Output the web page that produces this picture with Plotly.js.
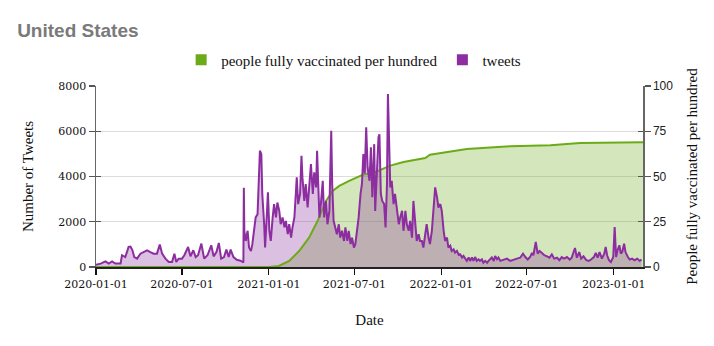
<!DOCTYPE html>
<html>
<head>
<meta charset="utf-8">
<script src="https://cdn.plot.ly/plotly-3.0.1.min.js"></script>
<style>
  html, body { margin: 0; padding: 0; background: #fff; }
  #chart { width: 714px; height: 346px; }
</style>
</head>
<body>
<div id="chart"></div>
<script>
const tweetDates = [
  '2020-01-01','2020-01-11','2020-01-21','2020-01-28','2020-02-04','2020-02-11','2020-02-22','2020-02-25',
  '2020-03-03','2020-03-10','2020-03-14','2020-03-18','2020-03-22','2020-03-28','2020-04-04','2020-04-11',
  '2020-04-18','2020-04-25','2020-05-02','2020-05-09','2020-05-15','2020-05-20','2020-05-27','2020-06-03',
  '2020-06-10','2020-06-15','2020-06-19','2020-06-24','2020-07-01','2020-07-06','2020-07-14','2020-07-19',
  '2020-07-25','2020-07-30','2020-08-04','2020-08-11','2020-08-17','2020-08-24','2020-09-01','2020-09-06',
  '2020-09-12','2020-09-17','2020-09-22','2020-09-28','2020-10-03','2020-10-08','2020-10-12','2020-10-18',
  '2020-10-25','2020-11-02','2020-11-08','2020-11-09','2020-11-10','2020-11-13','2020-11-17','2020-11-20',
  '2020-11-24','2020-11-27','2020-12-01','2020-12-04','2020-12-08','2020-12-11','2020-12-13','2020-12-16',
  '2020-12-18','2020-12-22','2020-12-24','2020-12-27','2020-12-30','2021-01-02','2021-01-05','2021-01-09',
  '2021-01-12','2021-01-16','2021-01-19','2021-01-23','2021-01-26','2021-01-30','2021-02-03','2021-02-06',
  '2021-02-10','2021-02-13','2021-02-17','2021-02-20','2021-02-24','2021-02-27','2021-03-01','2021-03-04',
  '2021-03-08','2021-03-11','2021-03-13','2021-03-17','2021-03-20','2021-03-24','2021-03-27','2021-03-31',
  '2021-04-04','2021-04-07','2021-04-11','2021-04-13','2021-04-16','2021-04-18','2021-04-21','2021-04-25',
  '2021-04-28','2021-05-02','2021-05-05','2021-05-09','2021-05-13','2021-05-15','2021-05-18','2021-05-22',
  '2021-05-25','2021-05-29','2021-06-01','2021-06-05','2021-06-09','2021-06-12','2021-06-16','2021-06-19',
  '2021-06-23','2021-06-26','2021-06-30','2021-07-03','2021-07-07','2021-07-10','2021-07-14','2021-07-17',
  '2021-07-20','2021-07-23','2021-07-26','2021-07-29','2021-08-02','2021-08-05','2021-08-08','2021-08-12',
  '2021-08-14','2021-08-17','2021-08-21','2021-08-23','2021-08-26','2021-08-29','2021-09-02','2021-09-05',
  '2021-09-08','2021-09-10','2021-09-12','2021-09-15','2021-09-18','2021-09-22','2021-09-25','2021-09-29',
  '2021-10-03','2021-10-06','2021-10-10','2021-10-13','2021-10-17','2021-10-20','2021-10-24','2021-10-27',
  '2021-10-31','2021-11-03','2021-11-07','2021-11-10','2021-11-14','2021-11-17','2021-11-21','2021-11-24',
  '2021-11-28','2021-12-01','2021-12-05','2021-12-08','2021-12-12','2021-12-15','2021-12-19','2021-12-23',
  '2021-12-26','2021-12-30','2022-01-02','2022-01-06','2022-01-09','2022-01-13','2022-01-16','2022-01-20',
  '2022-01-23','2022-01-27','2022-01-30','2022-02-03','2022-02-07','2022-02-10','2022-02-14','2022-02-17',
  '2022-02-21','2022-02-24','2022-02-28','2022-03-03','2022-03-07','2022-03-10','2022-03-14','2022-03-17',
  '2022-03-21','2022-03-24','2022-03-28','2022-03-31','2022-04-04','2022-04-08','2022-04-11','2022-04-15',
  '2022-04-18','2022-04-22','2022-04-25','2022-04-29','2022-05-02','2022-05-06','2022-05-13','2022-05-20',
  '2022-05-27','2022-06-03','2022-06-10','2022-06-17','2022-06-23','2022-06-28','2022-07-03','2022-07-08',
  '2022-07-12','2022-07-15','2022-07-20','2022-07-24','2022-07-28','2022-08-02','2022-08-07','2022-08-13',
  '2022-08-18','2022-08-23','2022-08-28','2022-09-03','2022-09-08','2022-09-13','2022-09-18','2022-09-24',
  '2022-09-30','2022-10-04','2022-10-11','2022-10-15','2022-10-20','2022-10-24','2022-10-29','2022-11-04',
  '2022-11-09','2022-11-14','2022-11-20','2022-11-24','2022-11-28','2022-12-02','2022-12-07','2022-12-12',
  '2022-12-15','2022-12-18','2022-12-22','2022-12-26','2022-12-31','2023-01-03','2023-01-06','2023-01-09',
  '2023-01-13','2023-01-16','2023-01-19','2023-01-23','2023-01-26','2023-01-31','2023-02-04','2023-02-09',
  '2023-02-14','2023-02-20','2023-02-25','2023-03-01'
];
const tweetCounts = [
  100,150,250,150,250,150,150,520,
  440,885,900,750,440,370,590,660,
  740,660,590,590,990,590,370,220,
  220,590,220,370,370,520,885,470,
  740,440,520,1035,370,520,960,470,
  660,1065,370,440,770,440,770,440,
  320,280,200,3500,1600,1150,1600,860,
  710,1010,1600,2190,2330,3810,5140,4990,
  3230,1890,860,2040,3300,1600,1150,2190,
  2780,2190,2850,2480,1890,2190,1750,2040,
  1450,1890,1300,1750,2190,3230,3960,2780,
  3230,4920,3960,2920,3670,2630,3670,4550,
  3230,4180,3520,5140,3370,2190,2780,3810,
  2190,2920,1890,2480,6020,3670,2040,1750,
  1450,1890,1300,1600,1150,1750,1150,1600,
  1010,1300,860,1010,1750,2190,3230,3670,
  4990,4130,6170,4400,3810,5290,3080,5430,
  2480,3960,5730,5870,3230,2920,2780,1750,
  3670,7650,5870,3520,3810,2780,3230,2480,
  1890,2190,2480,1600,2480,1890,1600,2040,
  1300,2920,1750,1150,1450,1150,1150,860,
  1450,1890,1300,1010,1600,2480,3520,3080,
  2630,2780,2480,1600,1150,1300,860,940,
  710,780,640,710,530,560,420,490,
  340,270,420,270,420,270,440,270,
  340,270,340,190,270,190,270,340,
  420,270,490,340,420,270,330,370,
  270,330,370,410,590,440,330,440,
  620,520,1110,590,710,620,520,470,
  410,560,370,410,300,440,370,440,
  330,410,840,410,660,370,470,300,
  270,330,440,620,410,660,370,590,
  890,520,300,220,440,1770,440,740,
  960,590,660,1030,660,440,330,370,
  300,370,270,330
];

// people fully vaccinated per hundred
const vaxDates = [
  '2020-01-01','2020-12-14','2021-01-01','2021-01-22','2021-02-13','2021-03-06','2021-03-27','2021-04-14',
  '2021-05-02','2021-05-16','2021-05-30','2021-06-20','2021-07-18','2021-08-15','2021-09-15','2021-10-13',
  '2021-11-28','2021-12-08','2022-01-20','2022-02-24','2022-05-27','2022-08-20','2022-10-22','2023-01-01',
  '2023-03-04'
];
const vaxValues = [
  0,0,0,0.6,3.3,8.8,16.2,25.4,
  36.5,42,44.8,47.6,50.9,52.5,56,58,
  60.2,62,63.8,65.2,66.7,67.3,68.5,68.9,
  68.9
];

const legendNames = ['people fully vaccinated per hundred', 'tweets'];

const green = '#6cab18';
const purple = '#8c2da0';
const serif = 'Liberation Serif, serif';
const tickSerif = 'DejaVu Serif, serif';

// fills first (green under purple), then the lines on the overlay axes
const vaxFill = {
  x: vaxDates, y: vaxValues, type: 'scatter', mode: 'none', xaxis: 'x', yaxis: 'y',
  fill: 'tozeroy', fillcolor: 'rgba(108,171,24,0.29)', showlegend: false, hoverinfo: 'skip'
};
const tweetFill = {
  x: tweetDates, y: tweetCounts, type: 'scatter', mode: 'none', xaxis: 'x', yaxis: 'y2',
  fill: 'tozeroy', fillcolor: 'rgba(140,45,160,0.3)', showlegend: false, hoverinfo: 'skip'
};
const vaxLine = {
  x: vaxDates, y: vaxValues, type: 'scatter', mode: 'lines', xaxis: 'x', yaxis: 'y3',
  line: { color: green, width: 2 }, showlegend: false, hoverinfo: 'skip'
};
const tweetLine = {
  x: tweetDates, y: tweetCounts, type: 'scatter', mode: 'lines', xaxis: 'x', yaxis: 'y4',
  line: { color: purple, width: 2 }, showlegend: false, hoverinfo: 'skip'
};

// legend entries drawn as solid squares
const legVax = {
  x: [null], y: [null], type: 'scatter', mode: 'markers', name: legendNames[0],
  marker: { symbol: 'square', size: 11, color: green }, xaxis: 'x', yaxis: 'y'
};
const legTweets = {
  x: [null], y: [null], type: 'scatter', mode: 'markers', name: legendNames[1],
  marker: { symbol: 'square', size: 11, color: purple }, xaxis: 'x', yaxis: 'y'
};

const xRange = ['2020-01-01', '2023-03-04'];

const layout = {
  width: 714, height: 346,
  margin: { l: 96, r: 71, t: 86, b: 79 },
  paper_bgcolor: '#fff', plot_bgcolor: '#fff',
  title: {
    text: 'United States', x: 0.024, xanchor: 'left', y: 0.913, yanchor: 'middle',
    font: { family: 'Liberation Sans, Arial, sans-serif', size: 19, color: '#7a7a7a', weight: 'bold' }
  },
  legend: {
    orientation: 'h', x: 0.471, xanchor: 'center', y: 1.144, yanchor: 'middle',
    font: { family: serif, size: 15, color: '#111' }, itemwidth: 30
  },
  xaxis: {
    type: 'date', range: xRange, tick0: '2020-01-01', dtick: 'M6', tickformat: '%Y-%m-%d',
    ticks: 'outside', ticklen: 6, tickwidth: 1.2, tickcolor: '#111',
    showline: true, linecolor: '#222', linewidth: 1.5, showgrid: false, zeroline: false,
    tickfont: { family: tickSerif, size: 11, color: '#111' },
    title: { text: 'Date', font: { family: serif, size: 15, color: '#111' }, standoff: 25 }
  },
  xaxis2: {
    type: 'date', range: xRange, tick0: '2020-01-01', dtick: 'M6', overlaying: 'x', anchor: 'y',
    ticks: 'inside', ticklen: 5, tickwidth: 1.2, tickcolor: '#111',
    showticklabels: false, showline: false, showgrid: false, zeroline: false
  },
  yaxis: {
    side: 'right', range: [0, 100], dtick: 25,
    ticks: 'outside', ticklen: 6, tickwidth: 1.2, tickcolor: '#555',
    showline: true, linecolor: '#666', linewidth: 1.5,
    showgrid: true, gridcolor: '#dcdcdc', gridwidth: 1, zeroline: false,
    tickfont: { family: 'Liberation Sans, Arial, sans-serif', size: 12, color: '#222' },
    title: { text: 'People fully vaccinated per hundred', font: { family: serif, size: 15, color: '#111' }, standoff: 14 }
  },
  yaxis2: {
    side: 'left', overlaying: 'y', range: [0, 8000], dtick: 2000,
    ticks: 'outside', ticklen: 6, tickwidth: 1.2, tickcolor: '#555',
    showline: true, linecolor: '#666', linewidth: 1.5,
    showgrid: false, zeroline: false,
    tickfont: { family: tickSerif, size: 11, color: '#111' },
    title: { text: 'Number of Tweets', font: { family: serif, size: 15, color: '#111' }, standoff: 21 }
  },
  yaxis3: {
    side: 'right', overlaying: 'y', anchor: 'x', range: [0, 100], dtick: 25,
    ticks: 'inside', ticklen: 5, tickwidth: 1.2, tickcolor: '#555',
    showticklabels: false, showline: false, showgrid: false, zeroline: false
  },
  yaxis4: {
    side: 'left', overlaying: 'y', anchor: 'x', range: [0, 8000], dtick: 2000,
    ticks: 'inside', ticklen: 5, tickwidth: 1.2, tickcolor: '#555',
    showticklabels: false, showline: false, showgrid: false, zeroline: false
  }
};

Plotly.newPlot('chart', [vaxFill, tweetFill, vaxLine, tweetLine, legVax, legTweets], layout,
  { displayModeBar: false, staticPlot: true });
</script>
</body>
</html>
